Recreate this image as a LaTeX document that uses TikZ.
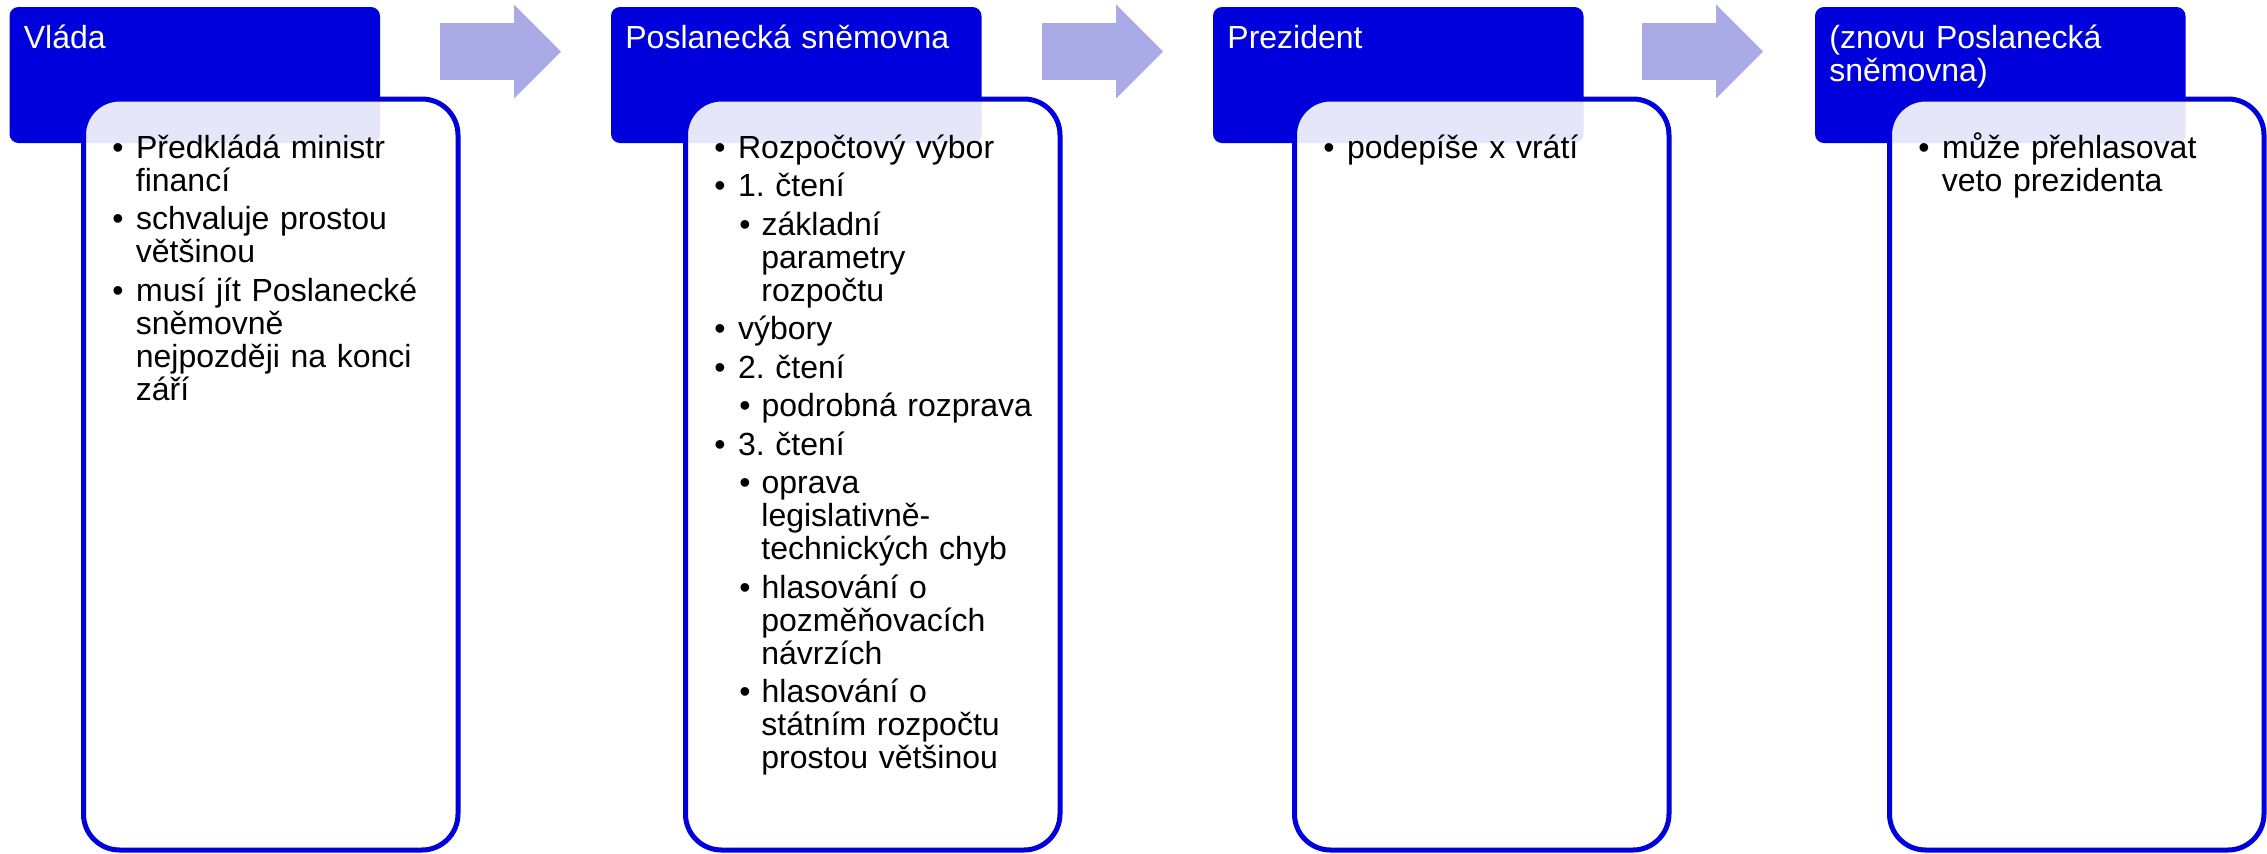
\documentclass[tikz,border=0pt]{standalone}
\usepackage{fontspec}
\setmainfont{Liberation Sans}
\usepackage{enumitem}
\usepackage{tikz}
\usetikzlibrary{shapes.arrows, positioning, calc}

\definecolor{headblue}{RGB}{0,0,220}
\definecolor{arrowlav}{RGB}{170,170,230}

\setlist[itemize]{label=\textbullet, align=left, labelwidth=5.5pt, leftmargin=11.75pt, topsep=0pt, partopsep=0pt, parsep=0pt, itemsep=2.75pt}
\setlist[itemize,1]{labelsep=6.25pt}
\setlist[itemize,2]{labelsep=5.5pt, topsep=2.75pt}

\begin{document}
\begin{tikzpicture}[
    x=0.5pt, y=-0.5pt,
    head/.style={rectangle, fill=headblue, rounded corners=4.5pt, minimum width=185.25pt, minimum height=68pt, anchor=north west, inner sep=0pt, outer sep=0pt},
    headtext/.style={anchor=base west, inner sep=0pt, text=white, text width=175pt, align=left, font=\fontsize{16}{16.75}\selectfont\frenchspacing},
    body/.style={rectangle, draw=headblue, line width=2.5pt, fill=white, fill opacity=0.9, draw opacity=1, rounded corners=18pt, minimum width=187.25pt, minimum height=375.5pt, anchor=north west, inner sep=0pt, outer sep=0pt},
    bodytext/.style={anchor=north west, inner sep=0pt, text width=165pt, align=left, font=\fontsize{16}{16.5}\selectfont\frenchspacing},
    flowarrow/.style={single arrow, fill=arrowlav, minimum height=60.5pt, inner xsep=0pt, inner ysep=14pt, single arrow head extend=9.25pt, outer sep=0pt, anchor=tail}
]
    \useasboundingbox (0,0) rectangle (2267,853);

    % title boxes
    \node[head] (h1) at (9.5,7) {};
    \node[head] (h2) at (611,7) {};
    \node[head] (h3) at (1213,7) {};
    \node[head] (h4) at (1815,7) {};

    \node[headtext] (t1) at ($(h1.north west)+(14,41)$) {Vláda};
    \node[headtext] (t2) at ($(h2.north west)+(14,41)$) {Poslanecká sněmovna};
    \node[headtext] (t3) at ($(h3.north west)+(14,41)$) {Prezident};
    \node[headtext] (t4) at ($(h4.north west)+(14,41)$) {(znovu Poslanecká\\sněmovna)};

    % content boxes
    \node[body] (b1) at (83.5,99) {};
    \node[body] (b2) at (685.5,99) {};
    \node[body] (b3) at (1294.5,99) {};
    \node[body] (b4) at (1889.5,99) {};

    \node[bodytext] (l1) at ($(b1.north west)+(28.5,26)$) {%
        \begin{itemize}
            \item Předkládá ministr\\financí
            \item schvaluje prostou\\většinou
            \item musí jít Poslanecké\\sněmovně\\nejpozději na konci\\září
        \end{itemize}};
    \node[bodytext] (l2) at ($(b2.north west)+(28.5,26)$) {%
        \begin{itemize}
            \item Rozpočtový výbor
            \item 1. čtení
            \begin{itemize}
                \item základní\\parametry\\rozpočtu
            \end{itemize}
            \item výbory
            \item 2. čtení
            \begin{itemize}
                \item podrobná rozprava
            \end{itemize}
            \item 3. čtení
            \begin{itemize}
                \item oprava\\legislativně-\\technických chyb
                \item hlasování o\\pozměňovacích\\návrzích
                \item hlasování o\\státním rozpočtu\\prostou většinou
            \end{itemize}
        \end{itemize}};
    \node[bodytext] (l3) at ($(b3.north west)+(28.5,26)$) {%
        \begin{itemize}
            \item podepíše x vrátí
        \end{itemize}};
    \node[bodytext] (l4) at ($(b4.north west)+(28.5,26)$) {%
        \begin{itemize}
            \item může přehlasovat\\veto prezidenta
        \end{itemize}};

    % block arrows between the stages
    \node[flowarrow] (a1) at (440,51.5) {};
    \node[flowarrow] (a2) at (1042,51.5) {};
    \node[flowarrow] (a3) at (1642,51.5) {};
\end{tikzpicture}
\end{document}
